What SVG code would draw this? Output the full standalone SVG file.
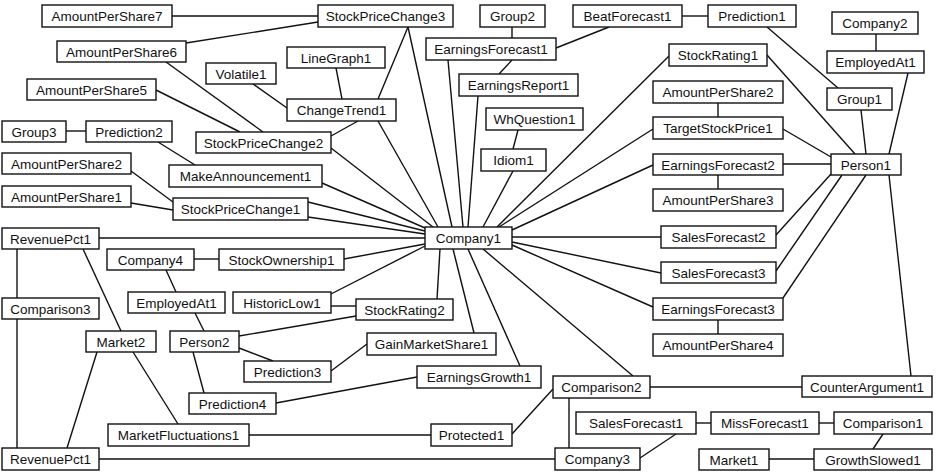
<svg xmlns="http://www.w3.org/2000/svg" width="942" height="474" viewBox="0 0 942 474">
<style>
  .bg { fill: #ffffff; }
  .node rect { fill: #ffffff; stroke: #111111; stroke-width: 1.4; }
  .node text { font-family: "Liberation Sans", Arial, sans-serif; font-size: 13.5px; fill: #111111; text-anchor: middle; }
  #edges line { stroke: #111111; stroke-width: 1.4; }
</style>
<rect class="bg" x="0" y="0" width="942" height="474"/>

<g id="edges">
  <line x1="172" y1="16" x2="318" y2="16"/>
  <line x1="186" y1="43" x2="318" y2="22"/>
  <line x1="166" y1="62" x2="263" y2="132"/>
  <line x1="156" y1="90" x2="240" y2="132"/>
  <line x1="253" y1="84" x2="287" y2="108"/>
  <line x1="336" y1="68" x2="342" y2="99"/>
  <line x1="408" y1="27" x2="378" y2="99"/>
  <line x1="408" y1="27" x2="452" y2="227"/>
  <line x1="358" y1="121" x2="331" y2="136"/>
  <line x1="378" y1="121" x2="438" y2="227"/>
  <line x1="512" y1="27" x2="512" y2="38"/>
  <line x1="556" y1="48" x2="609" y2="27"/>
  <line x1="512" y1="60" x2="499" y2="74"/>
  <line x1="448" y1="60" x2="463" y2="227"/>
  <line x1="478" y1="96" x2="468" y2="227"/>
  <line x1="682" y1="16" x2="708" y2="16"/>
  <line x1="767" y1="27" x2="838" y2="88"/>
  <line x1="669" y1="56" x2="497" y2="227"/>
  <line x1="767" y1="55" x2="855" y2="154"/>
  <line x1="876" y1="34" x2="876" y2="51"/>
  <line x1="908" y1="73" x2="889" y2="154"/>
  <line x1="861" y1="110" x2="866" y2="154"/>
  <line x1="718" y1="103" x2="718" y2="117"/>
  <line x1="653" y1="129" x2="499" y2="227"/>
  <line x1="783" y1="129" x2="831" y2="157"/>
  <line x1="783" y1="164" x2="831" y2="164"/>
  <line x1="718" y1="175" x2="718" y2="189"/>
  <line x1="653" y1="165" x2="512" y2="230"/>
  <line x1="776" y1="235" x2="831" y2="174"/>
  <line x1="776" y1="271" x2="842" y2="175"/>
  <line x1="783" y1="298" x2="866" y2="175"/>
  <line x1="889" y1="175" x2="911" y2="376"/>
  <line x1="512" y1="237" x2="661" y2="237"/>
  <line x1="512" y1="242" x2="661" y2="273"/>
  <line x1="512" y1="245" x2="653" y2="307"/>
  <line x1="718" y1="320" x2="718" y2="334"/>
  <line x1="650" y1="387" x2="802" y2="387"/>
  <line x1="483" y1="249" x2="633" y2="376"/>
  <line x1="553" y1="389" x2="512" y2="434"/>
  <line x1="569" y1="398" x2="569" y2="448"/>
  <line x1="640" y1="458" x2="676" y2="434"/>
  <line x1="696" y1="423" x2="711" y2="423"/>
  <line x1="819" y1="423" x2="834" y2="423"/>
  <line x1="883" y1="434" x2="873" y2="449"/>
  <line x1="769" y1="459" x2="814" y2="459"/>
  <line x1="99" y1="459" x2="555" y2="459"/>
  <line x1="249" y1="435" x2="431" y2="435"/>
  <line x1="133" y1="352" x2="178" y2="424"/>
  <line x1="97" y1="352" x2="67" y2="448"/>
  <line x1="83" y1="249" x2="121" y2="331"/>
  <line x1="17" y1="249" x2="17" y2="298"/>
  <line x1="17" y1="319" x2="17" y2="448"/>
  <line x1="99" y1="238" x2="425" y2="238"/>
  <line x1="194" y1="259" x2="219" y2="259"/>
  <line x1="344" y1="259" x2="425" y2="244"/>
  <line x1="166" y1="270" x2="176" y2="292"/>
  <line x1="195" y1="313" x2="204" y2="331"/>
  <line x1="331" y1="294" x2="425" y2="246"/>
  <line x1="331" y1="306" x2="356" y2="306"/>
  <line x1="437" y1="299" x2="440" y2="249"/>
  <line x1="239" y1="336" x2="356" y2="316"/>
  <line x1="239" y1="348" x2="273" y2="361"/>
  <line x1="331" y1="371" x2="367" y2="344"/>
  <line x1="193" y1="352" x2="204" y2="393"/>
  <line x1="276" y1="403" x2="417" y2="377"/>
  <line x1="474" y1="333" x2="453" y2="249"/>
  <line x1="520" y1="366" x2="468" y2="249"/>
  <line x1="66" y1="131" x2="86" y2="131"/>
  <line x1="158" y1="142" x2="195" y2="165"/>
  <line x1="322" y1="183" x2="425" y2="228"/>
  <line x1="131" y1="171" x2="173" y2="202"/>
  <line x1="131" y1="203" x2="173" y2="210"/>
  <line x1="308" y1="202" x2="425" y2="231"/>
  <line x1="308" y1="217" x2="425" y2="234"/>
  <line x1="331" y1="148" x2="433" y2="227"/>
  <line x1="513" y1="171" x2="483" y2="227"/>
  <line x1="518" y1="130" x2="513" y2="149"/>
</g>

<g id="AmountPerShare7" class="node"><rect x="42" y="5" width="130" height="22"/><text x="107" y="21">AmountPerShare7</text></g>
<g id="StockPriceChange3" class="node"><rect x="318" y="5" width="135" height="22"/><text x="385.5" y="21">StockPriceChange3</text></g>
<g id="Group2" class="node"><rect x="480" y="5" width="65" height="22"/><text x="512.5" y="21">Group2</text></g>
<g id="BeatForecast1" class="node"><rect x="573" y="5" width="109" height="22"/><text x="627.5" y="21">BeatForecast1</text></g>
<g id="Prediction1" class="node"><rect x="708" y="5" width="88" height="22"/><text x="752" y="21">Prediction1</text></g>
<g id="Company2" class="node"><rect x="832" y="12" width="86" height="22"/><text x="875" y="28">Company2</text></g>
<g id="EmployedAt1-a" class="node"><rect x="827" y="51" width="97" height="22"/><text x="875.5" y="67">EmployedAt1</text></g>
<g id="AmountPerShare6" class="node"><rect x="57" y="41" width="129" height="21"/><text x="121.5" y="56.5">AmountPerShare6</text></g>
<g id="LineGraph1" class="node"><rect x="287" y="47" width="98" height="21"/><text x="336" y="62.5">LineGraph1</text></g>
<g id="EarningsForecast1" class="node"><rect x="426" y="38" width="130" height="22"/><text x="491" y="54">EarningsForecast1</text></g>
<g id="Volatile1" class="node"><rect x="206" y="63" width="70" height="21"/><text x="241" y="78.5">Volatile1</text></g>
<g id="AmountPerShare5" class="node"><rect x="27" y="79" width="129" height="21"/><text x="91.5" y="94.5">AmountPerShare5</text></g>
<g id="EarningsReport1" class="node"><rect x="459" y="74" width="119" height="22"/><text x="518.5" y="90">EarningsReport1</text></g>
<g id="StockRating1" class="node"><rect x="669" y="44" width="98" height="22"/><text x="718" y="60">StockRating1</text></g>
<g id="ChangeTrend1" class="node"><rect x="287" y="99" width="109" height="22"/><text x="341.5" y="115">ChangeTrend1</text></g>
<g id="AmountPerShare2-a" class="node"><rect x="653" y="81" width="130" height="22"/><text x="718" y="97">AmountPerShare2</text></g>
<g id="Group1" class="node"><rect x="827" y="88" width="65" height="22"/><text x="859.5" y="104">Group1</text></g>
<g id="WhQuestion1" class="node"><rect x="486" y="108" width="97" height="22"/><text x="534.5" y="124">WhQuestion1</text></g>
<g id="Group3" class="node"><rect x="2" y="121" width="64" height="21"/><text x="34" y="136.5">Group3</text></g>
<g id="Prediction2" class="node"><rect x="86" y="121" width="86" height="21"/><text x="129" y="136.5">Prediction2</text></g>
<g id="StockPriceChange2" class="node"><rect x="196" y="132" width="135" height="21"/><text x="263.5" y="147.5">StockPriceChange2</text></g>
<g id="TargetStockPrice1" class="node"><rect x="653" y="117" width="130" height="22"/><text x="718" y="133">TargetStockPrice1</text></g>
<g id="Idiom1" class="node"><rect x="481" y="149" width="65" height="22"/><text x="513.5" y="165">Idiom1</text></g>
<g id="EarningsForecast2" class="node"><rect x="653" y="154" width="130" height="21"/><text x="718" y="169.5">EarningsForecast2</text></g>
<g id="Person1" class="node"><rect x="831" y="154" width="70" height="21"/><text x="866" y="169.5">Person1</text></g>
<g id="MakeAnnouncement1" class="node"><rect x="169" y="165" width="153" height="22"/><text x="245.5" y="181">MakeAnnouncement1</text></g>
<g id="AmountPerShare2-b" class="node"><rect x="2" y="153" width="129" height="21"/><text x="66.5" y="168.5">AmountPerShare2</text></g>
<g id="AmountPerShare3" class="node"><rect x="653" y="189" width="130" height="22"/><text x="718" y="205">AmountPerShare3</text></g>
<g id="AmountPerShare1" class="node"><rect x="2" y="186" width="129" height="21"/><text x="66.5" y="201.5">AmountPerShare1</text></g>
<g id="StockPriceChange1" class="node"><rect x="173" y="198" width="135" height="22"/><text x="240.5" y="214">StockPriceChange1</text></g>
<g id="Company1" class="node"><rect x="425" y="227" width="87" height="22"/><text x="468.5" y="243">Company1</text></g>
<g id="SalesForecast2" class="node"><rect x="661" y="226" width="115" height="22"/><text x="718.5" y="242">SalesForecast2</text></g>
<g id="RevenuePct1-a" class="node"><rect x="2" y="228" width="97" height="21"/><text x="50.5" y="243.5">RevenuePct1</text></g>
<g id="Company4" class="node"><rect x="107" y="249" width="87" height="21"/><text x="150.5" y="264.5">Company4</text></g>
<g id="StockOwnership1" class="node"><rect x="219" y="249" width="125" height="21"/><text x="281.5" y="264.5">StockOwnership1</text></g>
<g id="SalesForecast3" class="node"><rect x="661" y="262" width="115" height="21"/><text x="718.5" y="277.5">SalesForecast3</text></g>
<g id="EmployedAt1-b" class="node"><rect x="128" y="292" width="97" height="21"/><text x="176.5" y="307.5">EmployedAt1</text></g>
<g id="HistoricLow1" class="node"><rect x="233" y="292" width="98" height="21"/><text x="282" y="307.5">HistoricLow1</text></g>
<g id="StockRating2" class="node"><rect x="356" y="299" width="97" height="21"/><text x="404.5" y="314.5">StockRating2</text></g>
<g id="EarningsForecast3" class="node"><rect x="653" y="298" width="130" height="22"/><text x="718" y="314">EarningsForecast3</text></g>
<g id="Comparison3" class="node"><rect x="2" y="298" width="97" height="21"/><text x="50.5" y="313.5">Comparison3</text></g>
<g id="Market2" class="node"><rect x="86" y="331" width="70" height="21"/><text x="121" y="346.5">Market2</text></g>
<g id="Person2" class="node"><rect x="170" y="331" width="69" height="21"/><text x="204.5" y="346.5">Person2</text></g>
<g id="GainMarketShare1" class="node"><rect x="367" y="333" width="129" height="22"/><text x="431.5" y="349">GainMarketShare1</text></g>
<g id="AmountPerShare4" class="node"><rect x="653" y="334" width="130" height="22"/><text x="718" y="350">AmountPerShare4</text></g>
<g id="Prediction3" class="node"><rect x="244" y="361" width="87" height="21"/><text x="287.5" y="376.5">Prediction3</text></g>
<g id="EarningsGrowth1" class="node"><rect x="417" y="366" width="124" height="22"/><text x="479" y="382">EarningsGrowth1</text></g>
<g id="Comparison2" class="node"><rect x="553" y="376" width="97" height="22"/><text x="601.5" y="392">Comparison2</text></g>
<g id="CounterArgument1" class="node"><rect x="802" y="376" width="130" height="21"/><text x="867" y="391.5">CounterArgument1</text></g>
<g id="Prediction4" class="node"><rect x="189" y="393" width="87" height="21"/><text x="232.5" y="408.5">Prediction4</text></g>
<g id="SalesForecast1" class="node"><rect x="576" y="412" width="120" height="22"/><text x="636" y="428">SalesForecast1</text></g>
<g id="MissForecast1" class="node"><rect x="711" y="412" width="108" height="22"/><text x="765" y="428">MissForecast1</text></g>
<g id="Comparison1" class="node"><rect x="834" y="412" width="98" height="22"/><text x="883" y="428">Comparison1</text></g>
<g id="MarketFluctuations1" class="node"><rect x="108" y="424" width="141" height="22"/><text x="178.5" y="440">MarketFluctuations1</text></g>
<g id="Protected1" class="node"><rect x="431" y="424" width="81" height="22"/><text x="471.5" y="440">Protected1</text></g>
<g id="RevenuePct1-b" class="node"><rect x="2" y="448" width="97" height="22"/><text x="50.5" y="464">RevenuePct1</text></g>
<g id="Company3" class="node"><rect x="555" y="448" width="85" height="22"/><text x="597.5" y="464">Company3</text></g>
<g id="Market1" class="node"><rect x="699" y="449" width="70" height="21"/><text x="734" y="464.5">Market1</text></g>
<g id="GrowthSlowed1" class="node"><rect x="814" y="449" width="118" height="21"/><text x="873" y="464.5">GrowthSlowed1</text></g>
</svg>
